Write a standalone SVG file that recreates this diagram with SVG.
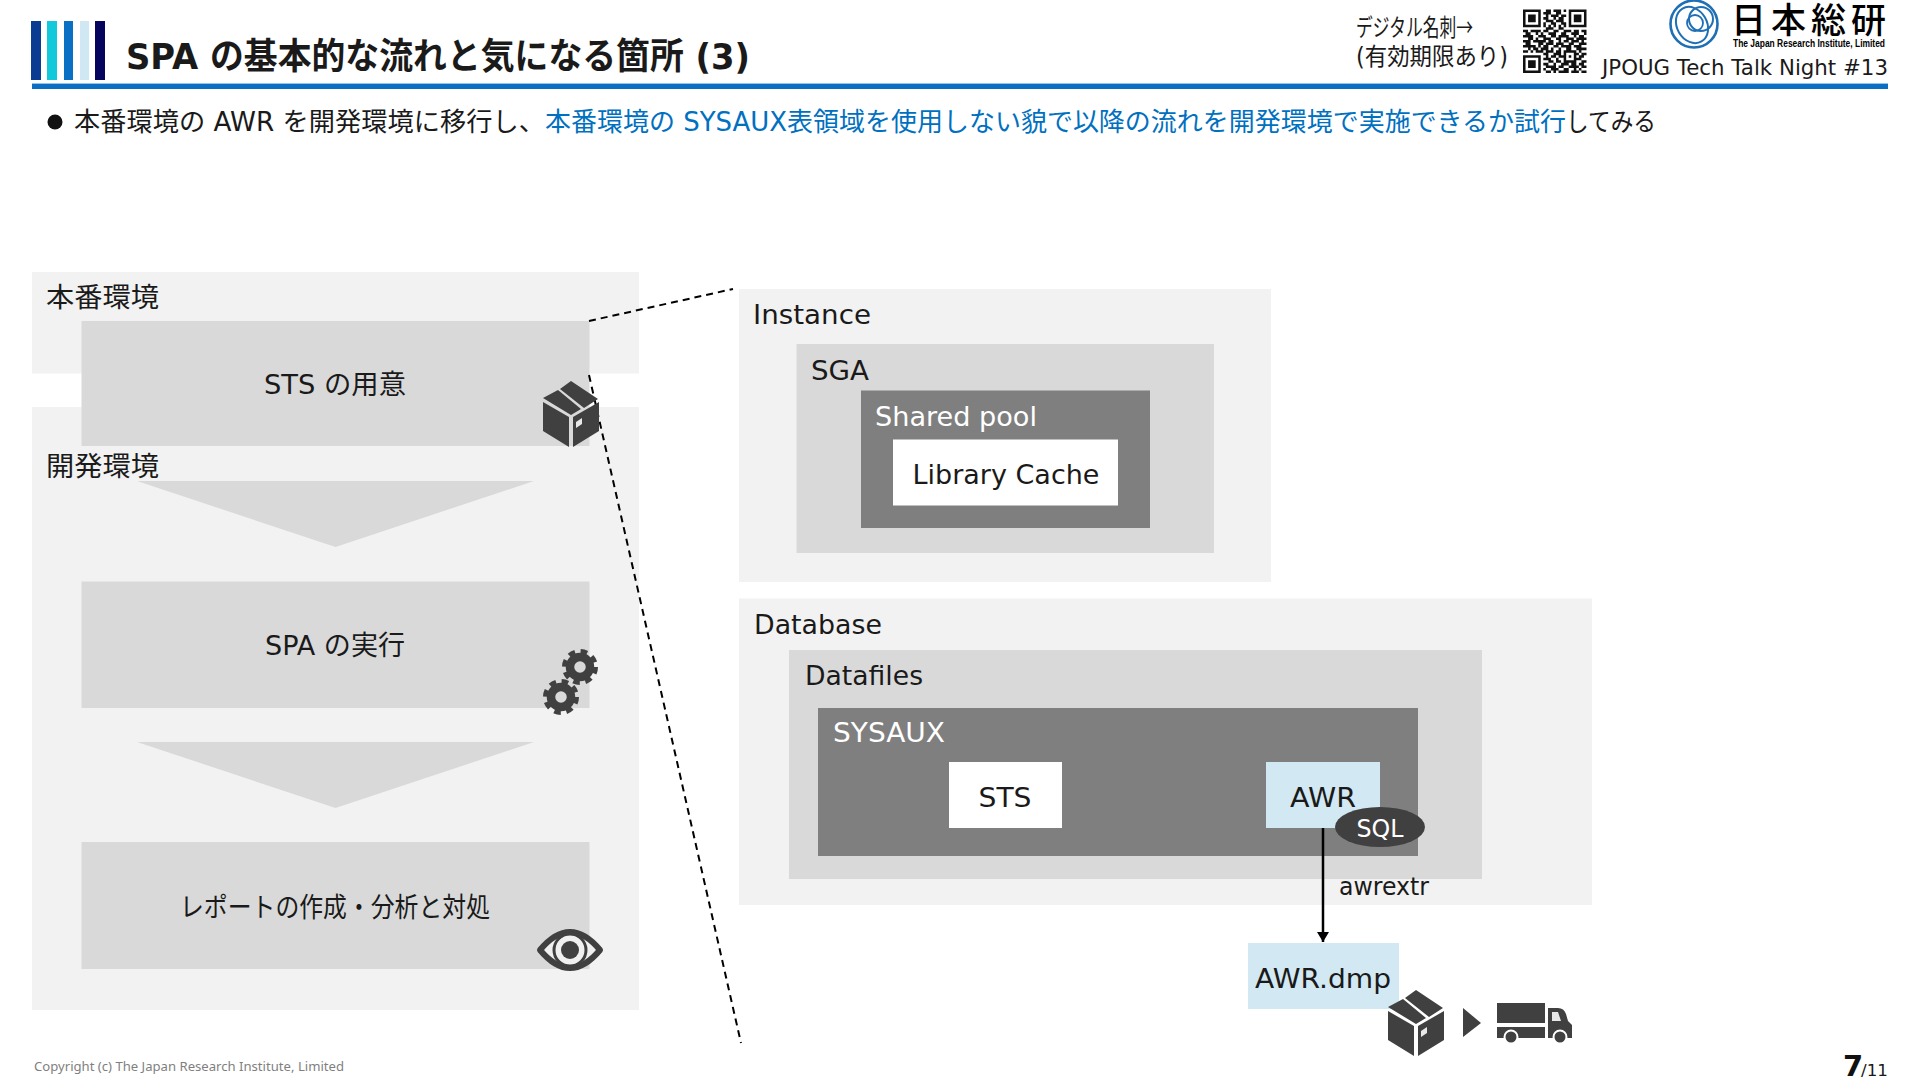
<svg xmlns="http://www.w3.org/2000/svg" width="1920" height="1080" viewBox="0 0 1920 1080">
<style>
text{font-family:"DejaVu Sans","Noto Sans CJK JP",sans-serif;fill:#1a1a1a;font-size:27px}
.w{fill:#fff}.m{text-anchor:middle}
.p1{fill:#f2f2f2}.p2{fill:#d9d9d9}.p3{fill:#7f7f7f}.lb{fill:#d2e9f4}
.ic{fill:#404040}
.dash{fill:none;stroke:#000;stroke-width:2;stroke-dasharray:7 5}
.ring{fill:none;stroke:#404040;stroke-width:8.5}
.teeth{fill:none;stroke:#404040;stroke-width:5;stroke-dasharray:6.6 5.6}
</style>
<defs>
<marker id="ah" markerUnits="userSpaceOnUse" markerWidth="10" markerHeight="12" refX="10" refY="6" orient="auto"><path d="M0 0L10 6L0 12Z" fill="#000"/></marker>
<g id="box"><path class="ic" d="M28 0L55 18L41 27L17 8ZM15 9L38 28L28 34L0 17ZM0 21L26 36V66L0 50ZM30 36L56 21V50L30 66Z"/><path d="M33 41L39 37V43L33 47Z" fill="#e8e8e8"/></g>
<g id="gear"><circle class="ring" r="10"/><circle class="teeth" r="15.500"/></g>
</defs>
<g id="header">
<rect x="31" y="21" width="10" height="59" fill="#0a3d91"/>
<rect x="47" y="21" width="10" height="59" fill="#12c9dc"/>
<rect x="64" y="21" width="9" height="59" fill="#0a70c4"/>
<rect x="80" y="21" width="9" height="59" fill="#cfe8f3"/>
<rect x="95" y="21" width="10" height="59" fill="#05055e"/>
<rect x="32" y="84" width="1856" height="5" fill="#0a6fc2"/>
<rect x="32" y="83" width="1856" height="1" fill="#8cc8ee"/>
<text x="126" y="69" style="font-size:36px;font-weight:700" textLength="624" lengthAdjust="spacingAndGlyphs">SPA の基本的な流れと気になる箇所 (3)</text>
<text x="1356" y="36" style="font-size:24px" textLength="117" lengthAdjust="spacingAndGlyphs">デジタル名刺<tspan style="font-family:'Noto Sans CJK JP',sans-serif">→</tspan></text>
<text x="1356" y="65" style="font-size:24px" textLength="152" lengthAdjust="spacingAndGlyphs">(有効期限あり)</text>
<g id="qr" transform="translate(1523 9.500) scale(2.54)">
<path fill="none" stroke="#111" stroke-width="1" d="M0 .5h7M9 .5h2M12 .5h3M16 .5h1M18 .5h7M0 1.5h1M6 1.5h1M8 1.5h3M13 1.5h2M18 1.5h1M24 1.5h1M0 2.5h1M2 2.5h3M6 2.5h1M9 2.5h1M11 2.5h3M15 2.5h2M18 2.5h1M20 2.5h3M24 2.5h1M0 3.5h1M2 3.5h3M6 3.5h1M8 3.5h2M12 3.5h1M14 3.5h2M18 3.5h1M20 3.5h3M24 3.5h1M0 4.5h1M2 4.5h3M6 4.5h1M9 4.5h3M13 4.5h3M18 4.5h1M20 4.5h3M24 4.5h1M0 5.5h1M6 5.5h1M8 5.5h1M11 5.5h2M15 5.5h2M18 5.5h1M24 5.5h1M0 6.5h7M8 6.5h1M10 6.5h1M12 6.5h1M14 6.5h1M16 6.5h1M18 6.5h7M9 7.5h3M14 7.5h2M0 8.5h2M3 8.5h4M8 8.5h2M12 8.5h2M16 8.5h3M20 8.5h2M23 8.5h2M1 9.5h2M5 9.5h1M7 9.5h1M10 9.5h3M15 9.5h2M19 9.5h3M24 9.5h1M0 10.5h4M6 10.5h3M11 10.5h2M14 10.5h4M20 10.5h1M22 10.5h2M2 11.5h2M5 11.5h1M8 11.5h3M13 11.5h2M17 11.5h3M21 11.5h4M0 12.5h3M4 12.5h5M10 12.5h2M14 12.5h1M16 12.5h2M19 12.5h3M23 12.5h1M1 13.5h2M6 13.5h2M9 13.5h3M13 13.5h3M18 13.5h2M22 13.5h3M0 14.5h5M6 14.5h1M8 14.5h2M12 14.5h2M15 14.5h4M20 14.5h3M2 15.5h1M4 15.5h2M7 15.5h3M11 15.5h1M14 15.5h1M17 15.5h2M21 15.5h4M0 16.5h2M3 16.5h1M5 16.5h3M9 16.5h3M13 16.5h2M16 16.5h5M22 16.5h1M8 17.5h2M12 17.5h3M16 17.5h1M20 17.5h2M23 17.5h2M0 18.5h7M9 18.5h1M11 18.5h2M14 18.5h3M18 18.5h1M20 18.5h1M22 18.5h2M0 19.5h1M6 19.5h1M8 19.5h3M13 19.5h1M16 19.5h1M20 19.5h3M0 20.5h1M2 20.5h3M6 20.5h1M10 20.5h2M13 20.5h2M16 20.5h5M23 20.5h2M0 21.5h1M2 21.5h3M6 21.5h1M8 21.5h2M12 21.5h1M15 21.5h3M19 21.5h2M22 21.5h2M0 22.5h1M2 22.5h3M6 22.5h1M9 22.5h4M14 22.5h2M18 22.5h4M23 22.5h2M0 23.5h1M6 23.5h1M8 23.5h1M11 23.5h3M16 23.5h2M20 23.5h1M22 23.5h1M0 24.5h7M9 24.5h2M12 24.5h1M14 24.5h4M19 24.5h3M23 24.5h2"/>
</g>
<g id="logo">
<circle cx="1694" cy="24" r="23.500" fill="none" stroke="#1f6fb5" stroke-width="2.600"/>
<ellipse cx="1692" cy="25" rx="15" ry="19" fill="none" stroke="#1f6fb5" stroke-width="2" transform="rotate(-30 1692 25)"/>
<circle cx="1701" cy="19" r="12" fill="none" stroke="#1f6fb5" stroke-width="2"/>
<circle cx="1695" cy="23" r="8" fill="none" stroke="#1f6fb5" stroke-width="1.800"/>
<text x="1731 1771 1811 1851" y="33" style="font-size:35px;font-weight:500;fill:#000">日本総研</text>
<text x="1733" y="47" style="font-size:10px;font-weight:700;fill:#000;font-family:'Liberation Sans',sans-serif" textLength="152" lengthAdjust="spacingAndGlyphs">The Japan Research Institute, Limited</text>
</g>
<text x="1602" y="75" style="font-size:22px" textLength="286" lengthAdjust="spacingAndGlyphs">JPOUG Tech Talk Night #13</text>
</g>
<g id="lead">
<circle cx="55" cy="122" r="7.500" fill="#111"/>
<text x="74" y="131" style="font-size:26px" textLength="471" lengthAdjust="spacingAndGlyphs">本番環境の AWR を開発環境に移行し、</text>
<text x="545" y="131" style="font-size:26px;fill:#0070c0" textLength="1021" lengthAdjust="spacingAndGlyphs">本番環境の SYSAUX表領域を使用しない貌で以降の流れを開発環境で実施できるか試行</text>
<text x="1566" y="131" style="font-size:26px" textLength="90" lengthAdjust="spacingAndGlyphs">してみる</text>
</g>
<g id="node-prod">
<rect class="p1" x="32" y="272" width="607" height="101.500"/>
<text x="46" y="307" textLength="113" lengthAdjust="spacingAndGlyphs">本番環境</text>
</g>
<g id="node-dev">
<rect class="p1" x="32" y="407" width="607" height="603"/>
</g>
<g id="node-sts-prep">
<rect class="p2" x="81.500" y="321" width="508" height="125"/>
<text x="335" y="394" class="m" textLength="142" lengthAdjust="spacingAndGlyphs">STS の用意</text>
</g>
<text x="46" y="476" textLength="113" lengthAdjust="spacingAndGlyphs">開発環境</text>
<path id="arrow1" class="p2" d="M137 481H534L335.500 547Z"/>
<g id="node-spa">
<rect class="p2" x="81.500" y="581.500" width="508" height="126.500"/>
<text x="335" y="655" class="m" textLength="140" lengthAdjust="spacingAndGlyphs">SPA の実行</text>
</g>
<path id="arrow2" class="p2" d="M137 742H534L335.500 808Z"/>
<g id="node-report">
<rect class="p2" x="81.500" y="842" width="508" height="127"/>
<text x="335" y="917" class="m" textLength="310" lengthAdjust="spacingAndGlyphs">レポートの作成・分析と対処</text>
</g>
<g id="node-instance">
<rect class="p1" x="739" y="289" width="532" height="293"/>
<text x="753" y="324" textLength="118" lengthAdjust="spacingAndGlyphs">Instance</text>
<rect class="p2" x="796.500" y="344" width="417.500" height="209"/>
<text x="811" y="380" textLength="58" lengthAdjust="spacingAndGlyphs">SGA</text>
<rect class="p3" x="861" y="390.500" width="289" height="137.500"/>
<text x="875" y="426" class="w" textLength="162" lengthAdjust="spacingAndGlyphs">Shared pool</text>
<rect x="893" y="439.500" width="225" height="66" fill="#fff"/>
<text x="1006" y="484" class="m" textLength="187" lengthAdjust="spacingAndGlyphs">Library Cache</text>
</g>
<g id="node-database">
<rect class="p1" x="739" y="598.500" width="853" height="306.500"/>
<text x="754" y="634" textLength="128" lengthAdjust="spacingAndGlyphs">Database</text>
<rect class="p2" x="789" y="650" width="693" height="229"/>
<text x="805" y="685" textLength="118" lengthAdjust="spacingAndGlyphs">Datafiles</text>
<rect class="p3" x="818" y="708" width="600" height="148"/>
<text x="833" y="742" class="w" textLength="112" lengthAdjust="spacingAndGlyphs">SYSAUX</text>
<rect x="949" y="762" width="113" height="66" fill="#fff"/>
<text x="1005" y="807" class="m" textLength="53" lengthAdjust="spacingAndGlyphs">STS</text>
<rect class="lb" x="1266" y="762" width="114" height="66"/>
<text x="1323" y="807" class="m" textLength="66" lengthAdjust="spacingAndGlyphs">AWR</text>
</g>
<g id="connectors">
<path class="dash" d="M589 321L733 289"/>
<path class="dash" d="M589 375L741 1043"/>
<path d="M1323 828V942" fill="none" stroke="#000" stroke-width="2.500" marker-end="url(#ah)"/>
</g>
<g id="node-sql">
<ellipse class="ic" cx="1380" cy="827" rx="45" ry="20"/>
<text x="1380" y="837" class="m w" style="font-size:24px" textLength="47" lengthAdjust="spacingAndGlyphs">SQL</text>
</g>
<text x="1339" y="895" style="font-size:25px" textLength="90" lengthAdjust="spacingAndGlyphs">awrextr</text>
<g id="node-dmp">
<rect class="lb" x="1248" y="943" width="151" height="66"/>
<text x="1323" y="988" class="m" textLength="136" lengthAdjust="spacingAndGlyphs">AWR.dmp</text>
</g>
<use id="icon-box1" href="#box" x="543" y="381"/>
<use id="icon-box2" href="#box" x="1388" y="990"/>
<g id="icon-gears">
<use href="#gear" x="580" y="667"/>
<use href="#gear" x="561" y="697"/>
</g>
<g id="icon-eye">
<path d="M540 950Q555 932 570 932Q585 932 600 950Q585 968 570 968Q555 968 540 950Z" fill="#f0f0f0" stroke="#404040" stroke-width="6" stroke-linejoin="round"/>
<circle cx="570" cy="950" r="16" fill="none" stroke="#404040" stroke-width="3"/>
<circle cx="570" cy="950" r="14" fill="#f0f0f0"/>
<circle cx="570" cy="950" r="9" fill="#404040"/>
</g>
<path id="icon-play" class="ic" d="M1463 1008L1481 1023L1463 1037Z"/>
<g id="icon-truck">
<path class="ic" d="M1497 1003H1545V1023H1497ZM1497 1027H1545V1038H1497ZM1548 1008H1558Q1564 1008 1566 1014L1568 1021L1572 1025V1038H1548Z"/>
<path d="M1552 1012H1558L1561 1021H1552Z" fill="#e8e8e8"/>
<circle class="ic" cx="1511" cy="1037" r="6.500" stroke="#fff" stroke-width="2"/>
<circle class="ic" cx="1560" cy="1037" r="6.500" stroke="#fff" stroke-width="2"/>
</g>
<text x="34" y="1071" style="font-size:13px;fill:#7f7f7f;font-family:'Noto Sans',sans-serif" textLength="310" lengthAdjust="spacingAndGlyphs">Copyright (c) The Japan Research Institute, Limited</text>
<text x="1843" y="1076" style="font-size:29px;font-weight:700;fill:#111">7</text>
<text x="1861" y="1076" style="font-size:15px" textLength="27" lengthAdjust="spacingAndGlyphs">/11</text>
</svg>
